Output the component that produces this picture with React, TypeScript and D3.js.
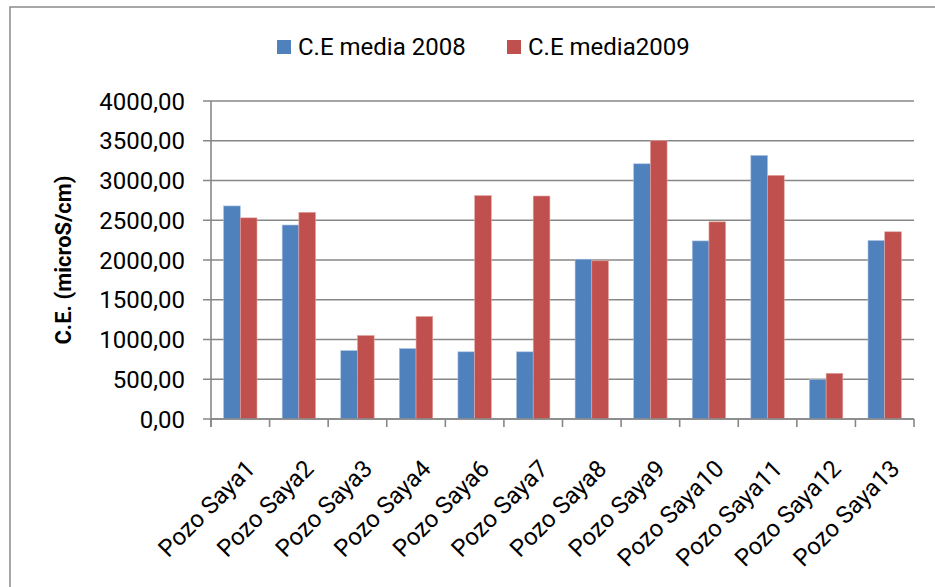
import React from "react";
import * as d3 from "d3";

const categories = ["Pozo Saya1","Pozo Saya2","Pozo Saya3","Pozo Saya4","Pozo Saya6","Pozo Saya7","Pozo Saya8","Pozo Saya9","Pozo Saya10","Pozo Saya11","Pozo Saya12","Pozo Saya13"];
const series2008 = [2680, 2440, 860, 885, 845, 845, 2010, 3210, 2240, 3315, 495, 2245];
const series2009 = [2530, 2600, 1050, 1290, 2810, 2805, 1990, 3500, 2480, 3065, 575, 2355];
const seriesNames = ["C.E media 2008", "C.E media2009"];
const yTicks = [0, 500, 1000, 1500, 2000, 2500, 3000, 3500, 4000];
const yTitle = "C.E. (microS/cm)";

const W = 935, H = 587;
const left = 211, right = 914, top = 101, bottom = 419;
const colors = ["#4F81BD", "#C0504D"];
const FONT = "Roboto, 'Liberation Sans', sans-serif";

export default function App() {
  const x = d3.scaleBand<string>().domain(categories).range([left, right]).paddingInner(0).paddingOuter(0);
  const y = d3.scaleLinear().domain([0, 4000]).range([bottom, top]);
  const bw = x.bandwidth();
  const barW = bw * 0.285;
  const fmt = (v: number) => v.toFixed(2).replace(".", ",");
  const grid = "#878787";
  return (
    <svg width={W} height={H} style={{ position: "absolute", left: 0, top: 0, background: "#fff" }}>
      <rect x={10} y={7} width={W + 10} height={H + 10} fill="#fff" stroke="#8a8a8a" strokeWidth={1.5} />
      {yTicks.map((t) => (
        <g key={t}>
          <line x1={left - 8} x2={right} y1={y(t)} y2={y(t)} stroke={grid} strokeWidth={1.6} />
          <text x={185} y={y(t)} dy="0.36em" textAnchor="end" fontFamily={FONT} fontSize={24} fill="#000">{fmt(t)}</text>
        </g>
      ))}
      {categories.map((c, i) => {
        const cx = (x(c) as number) + bw / 2;
        return (
          <g key={c}>
            <rect x={cx - barW} y={y(series2008[i])} width={barW} height={bottom - y(series2008[i])} fill={colors[0]} stroke="#a9c1e0" strokeWidth={0.6} />
            <rect x={cx} y={y(series2009[i])} width={barW} height={bottom - y(series2009[i])} fill={colors[1]} stroke="#e3a5a3" strokeWidth={0.6} />
          </g>
        );
      })}
      <line x1={left} x2={left} y1={top} y2={bottom + 8} stroke={grid} strokeWidth={1.6} />
      <line x1={left} x2={right} y1={bottom} y2={bottom} stroke={grid} strokeWidth={1.6} />
      {d3.range(categories.length + 1).map((i) => (
        <line key={i} x1={left + i * bw} x2={left + i * bw} y1={bottom} y2={bottom + 8} stroke={grid} strokeWidth={1.6} />
      ))}
      {categories.map((c) => {
        const cx = (x(c) as number) + bw / 2;
        return (
          <text key={c} transform={`translate(${cx + 4},${458}) rotate(-45)`} dy="0.72em" textAnchor="end" fontFamily={FONT} fontSize={24} fill="#000">{c}</text>
        );
      })}
      <text transform={`translate(${71},${(top + bottom) / 2}) rotate(-90)`} textAnchor="middle" fontFamily={FONT} fontSize={22} fontWeight="bold" fill="#000">{yTitle}</text>
      <rect x={277} y={40} width={14} height={14} fill={colors[0]} />
      <text x={298} y={55} fontFamily={FONT} fontSize={24} fill="#000">{seriesNames[0]}</text>
      <rect x={507} y={40} width={14} height={14} fill={colors[1]} />
      <text x={528} y={55} fontFamily={FONT} fontSize={24} fill="#000">{seriesNames[1]}</text>
    </svg>
  );
}
